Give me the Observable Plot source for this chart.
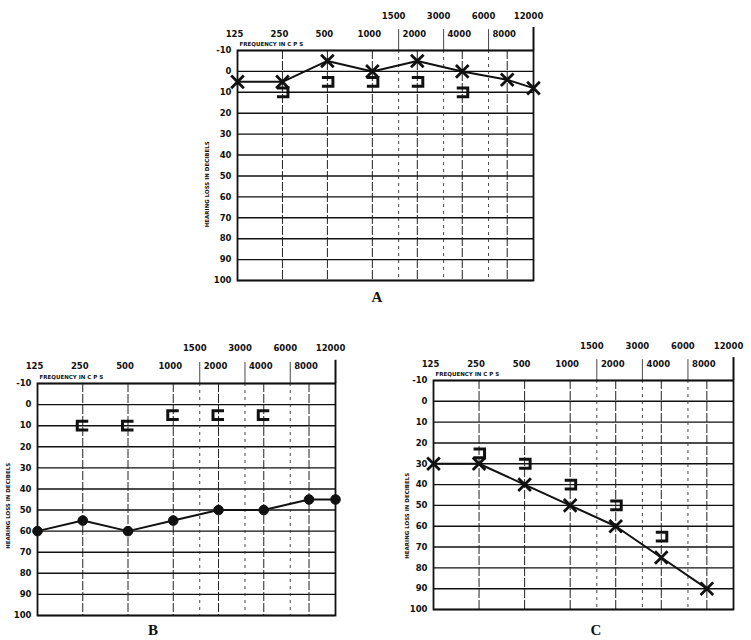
<!DOCTYPE html>
<html><head><meta charset="utf-8">
<script src="https://cdn.jsdelivr.net/npm/d3@7"></script>
<script src="https://cdn.jsdelivr.net/npm/@observablehq/plot@0.6"></script>
<style>
html,body{margin:0;padding:0;background:#fff;}
#page{position:relative;width:751px;height:640px;overflow:hidden;background:#fff;}
.panel{position:absolute;}
.panel svg{overflow:visible;}
.letter{position:absolute;font-family:"Liberation Serif",serif;font-weight:bold;font-size:15px;transform:translate(-50%,-50%);color:#111;}
</style></head><body><div id="page"></div>
<script>
// Shared axis values
const octaveFreqs = [125, 250, 500, 1000, 2000, 4000, 8000];
const halfFreqs = [1500, 3000, 6000];
const upperLabels = [1500, 3000, 6000, 12000];
const dbTicks = [-10, 0, 10, 20, 30, 40, 50, 60, 70, 80, 90, 100];
const freqTitle = "FREQUENCY IN C P S";
const lossTitle = "HEARING LOSS IN DECIBELS";

// Panel A
const freqA = [125, 250, 500, 1000, 2000, 4000, 8000, 12000];
const airA = [5, 5, -5, 0, -5, 0, 4, 8];
const boneFreqA = [250, 500, 1000, 2000, 4000];
const boneA = [10, 5, 5, 5, 10];

// Panel B
const freqB = [125, 250, 500, 1000, 2000, 4000, 8000, 12000];
const airB = [60, 55, 60, 55, 50, 50, 45, 45];
const boneFreqB = [250, 500, 1000, 2000, 4000];
const boneB = [10, 10, 5, 5, 5];

// Panel C
const freqC = [125, 250, 500, 1000, 2000, 4000, 8000];
const airC = [30, 30, 40, 50, 60, 75, 90];
const boneFreqC = [250, 500, 1000, 2000, 4000];
const boneC = [25, 30, 40, 50, 65];

// Custom bracket symbols
const bracketOpenLeft = {draw(ctx, size) {
  const r = Math.sqrt(size / Math.PI), w = r, h = r * 0.8;
  ctx.moveTo(-w, -h); ctx.lineTo(w, -h); ctx.lineTo(w, h); ctx.lineTo(-w, h);
}};
const bracketOpenRight = {draw(ctx, size) {
  const r = Math.sqrt(size / Math.PI), w = r, h = r * 0.8;
  ctx.moveTo(w, -h); ctx.lineTo(-w, -h); ctx.lineTo(-w, h); ctx.lineTo(w, h);
}};

function panel(cfg) {
  const air = cfg.freq.map((f, i) => ({f, v: cfg.air[i]}));
  const bone = cfg.boneFreq.map((f, i) => ({f, v: cfg.bone[i]}));
  const font = {fontWeight: "bold", fill: "#111"};
  return Plot.plot({
    width: cfg.width, height: cfg.height,
    marginLeft: cfg.ml, marginRight: cfg.mr, marginTop: cfg.mt, marginBottom: cfg.mb,
    x: {type: "log", domain: [125, 12000], axis: null},
    y: {domain: [-10, 100], reverse: true, axis: null},
    style: {fontFamily: "DejaVu Sans", background: "transparent", color: "#111"},
    marks: [
      Plot.ruleY(dbTicks, {stroke: "#111", strokeWidth: 1.4}),
      Plot.ruleX(octaveFreqs.slice(1), {stroke: "#222", strokeWidth: 1, strokeDasharray: "9,2"}),
      Plot.ruleX(halfFreqs, {stroke: "#333", strokeWidth: 0.9, strokeDasharray: "3,4"}),
      Plot.ruleX(halfFreqs, {y1: -10, y2: -20, stroke: "#333", strokeWidth: 0.9}),
      Plot.ruleX([12000], {y1: -10, y2: -21, stroke: "#111", strokeWidth: 2}),
      Plot.frame({stroke: "#111", strokeWidth: 1.8}),
      Plot.text(dbTicks, {frameAnchor: "left", y: d => d, text: d => String(d), dx: -6, textAnchor: "end", fontSize: 8.5, ...font}),
      Plot.text([lossTitle], {frameAnchor: "left", y: () => cfg.titleY, text: d => d, rotate: -90, textAnchor: "middle", dx: cfg.titleDx, fontSize: 5.5, ...font}),
      Plot.text(octaveFreqs, {x: d => d, y: () => -18, text: d => String(d), dx: -3, fontSize: 8.5, ...font}),
      Plot.text(upperLabels, {x: d => d, y: () => -26.5, text: d => String(d), dx: -5, fontSize: 8.5, ...font}),
      Plot.text([freqTitle], {frameAnchor: "top-left", dx: 2, dy: -8, text: d => d, textAnchor: "start", fontSize: 5.5, ...font}),
      Plot.line(air, {x: "f", y: "v", stroke: "#111", strokeWidth: 2}),
      cfg.airSymbol === "circle"
        ? Plot.dot(air, {x: "f", y: "v", symbol: "circle", r: 4.8, fill: "#111", stroke: "#111", strokeWidth: 1})
        : Plot.dot(air, {x: "f", y: "v", symbol: "times", r: 5.8, stroke: "#111", strokeWidth: 2.8}),
      Plot.dot(bone, {x: "f", y: "v", symbol: cfg.boneSymbol, r: 5.5, fill: "none", stroke: "#111", strokeWidth: 3})
    ]
  });
}

const page = document.getElementById("page");
function place(node, left, top) {
  const d = document.createElement("div");
  d.className = "panel"; d.style.left = left + "px"; d.style.top = top + "px";
  d.appendChild(node); page.appendChild(d);
}
function letter(t, x, y) {
  const d = document.createElement("div");
  d.className = "letter"; d.textContent = t; d.style.left = x + "px"; d.style.top = y + "px";
  page.appendChild(d);
}

place(panel({freq: freqA, air: airA, boneFreq: boneFreqA, bone: boneA, airSymbol: "times", boneSymbol: bracketOpenLeft,
  width: 350, height: 300, ml: 37, mr: 17, mt: 50, mb: 20, titleDx: -30, titleY: 54}), 200, 0);
place(panel({freq: freqB, air: airB, boneFreq: boneFreqB, bone: boneB, airSymbol: "circle", boneSymbol: bracketOpenRight,
  width: 350, height: 300, ml: 37, mr: 15, mt: 48, mb: 20, titleDx: -29, titleY: 48}), 0, 335);
place(panel({freq: freqC, air: airC, boneFreq: boneFreqC, bone: boneC, airSymbol: "times", boneSymbol: bracketOpenLeft,
  width: 356, height: 300, ml: 38, mr: 18, mt: 45, mb: 26, titleDx: -26, titleY: 55}), 395, 335);

letter("A", 377, 297);
letter("B", 153, 630);
letter("C", 596, 630);
</script>
</body></html>
